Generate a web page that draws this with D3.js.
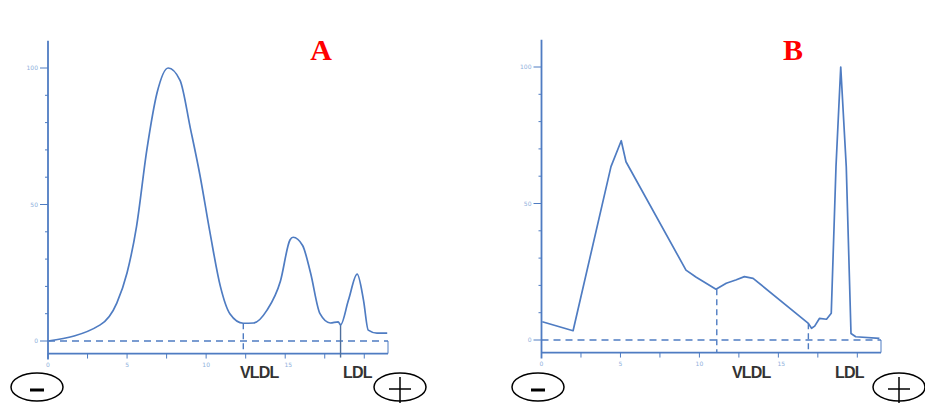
<!DOCTYPE html>
<html>
<head>
<meta charset="utf-8">
<script src="https://cdn.jsdelivr.net/npm/d3@7"></script>
<style>
  body { margin: 0; background: #fff; }
  svg { display: block; }
  .tl { font-family: "DejaVu Sans", sans-serif; font-size: 6px; fill: #8fb0dc; }
  .frac { font-family: "Liberation Sans", Arial, sans-serif; font-weight: bold; font-size: 16px; fill: #333; letter-spacing: -0.8px; }
  .panel { font-family: "Liberation Serif", "Times New Roman", serif; font-weight: bold; font-size: 30px; fill: #ff0000; }
</style>
</head>
<body>
<svg id="chart" width="925" height="403"></svg>
<script>
// densitometric scan, panel A (smooth bands)
var posA = [0, 3.3, 4.35, 5.0, 5.6, 6.25, 6.9, 7.6, 8.35, 9.0, 9.6, 10.25, 10.9, 11.5, 12.35, 13.0,
  13.85, 14.7, 15.3, 15.5, 16.1, 16.6, 17.2, 17.85, 18.35, 18.5, 19.0, 19.55, 19.95, 20.25, 20.8, 21.45];
var valA = [0, 5.9, 13.9, 25, 42, 70, 91, 100, 95.5, 78, 61, 39.5, 20, 10, 6.5, 6.6,
  11.3, 22, 37, 38, 35, 25, 10, 6.6, 7, 5.9, 15, 24.5, 15, 4, 2.9, 2.9];

// panel B (broad smear + sharp LDL band)
var posB = [0.05, 2.0, 4.4, 5.05, 5.35, 9.15, 9.8, 11.05, 11.7, 12.3, 12.85, 13.4, 16.9, 17.1,
  17.3, 17.6, 18.05, 18.35, 18.65, 18.95, 19.3, 19.6, 19.9, 21.4];
var valB = [6.7, 3.4, 63.5, 73, 65.3, 25.6, 23, 18.6, 20.8, 22, 23.2, 22.6, 6.1, 4.3,
  5.1, 7.9, 7.6, 9.8, 63.5, 100, 63.5, 2.4, 1.2, 0.6];

var xTicks = [0, 2.5, 5, 7.5, 10, 12.5, 15, 17.5, 20];
var xLabels = [0, 5, 10, 15];
var yTicks = [0, 10, 20, 30, 40, 50, 60, 70, 80, 90, 100];
var yLabels = [0, 50, 100];

// fraction boundaries: [position, curve value at that position, solid?]
var cutsA = [[12.35, 6.5, false], [18.5, 5.9, true]];
var cutsB = [[11.1, 18.6, false], [16.9, 6.1, false]];
var fracNames = ["VLDL", "LDL"];

var svg = d3.select("#chart");
var blue = "#4f7cc2";

function panel(opt) {
  var x = d3.scaleLinear().domain([0, 21.5]).range(opt.xr);
  var y = d3.scaleLinear().domain([0, 100]).range(opt.yr);
  var g = svg.append("g");

  // y axis
  var yTop = y(110), yBot = y(-4.6);
  g.append("line").attr("x1", x(0)).attr("x2", x(0)).attr("y1", yTop).attr("y2", yBot + 6)
    .attr("stroke", blue).attr("stroke-width", 1.8);
  g.selectAll(".yt").data(yTicks).join("line")
    .attr("x1", function (d) { return x(0) - (yLabels.indexOf(d) >= 0 ? 8 : 3); })
    .attr("x2", x(0)).attr("y1", y).attr("y2", y)
    .attr("stroke", blue).attr("stroke-width", 1);
  g.selectAll(".yl").data(yLabels).join("text").attr("class", "tl")
    .attr("x", x(0) - 10).attr("y", function (d) { return y(d) + 2; })
    .attr("text-anchor", "end").text(function (d) { return d; });

  // x axis
  g.append("line").attr("x1", x(0)).attr("x2", x(21.5)).attr("y1", yBot).attr("y2", yBot)
    .attr("stroke", blue).attr("stroke-width", 1.8);
  g.append("line").attr("x1", x(21.5)).attr("x2", x(21.5)).attr("y1", y(0)).attr("y2", yBot)
    .attr("stroke", blue).attr("stroke-width", 1);
  g.selectAll(".xt").data(xTicks).join("line")
    .attr("x1", x).attr("x2", x).attr("y1", yBot).attr("y2", yBot + 5)
    .attr("stroke", blue).attr("stroke-width", 1);
  g.selectAll(".xl").data(xLabels).join("text").attr("class", "tl")
    .attr("x", function (d) { return x(d) + (d === 15 ? 3 : 0); }).attr("y", yBot + 13)
    .attr("text-anchor", "middle").text(function (d) { return d; });

  // zero baseline
  g.append("line").attr("x1", x(0)).attr("x2", x(21.5)).attr("y1", y(0)).attr("y2", y(0))
    .attr("stroke", blue).attr("stroke-width", 1.5).attr("stroke-dasharray", "7,5");

  // fraction cut lines
  opt.cuts.forEach(function (c) {
    g.append("line").attr("x1", x(c[0])).attr("x2", x(c[0])).attr("y1", y(c[1])).attr("y2", yBot + (c[2] ? 4 : 0))
      .attr("stroke", c[2] ? "#4f6f9c" : blue).attr("stroke-width", 1.4)
      .attr("stroke-dasharray", c[2] ? null : "6,4");
  });

  // scan trace
  var pts = opt.pos.map(function (p, i) { return [p, opt.val[i]]; });
  var line = d3.line().x(function (d) { return x(d[0]); }).y(function (d) { return y(d[1]); }).curve(opt.curve);
  g.append("path").datum(pts).attr("d", line).attr("fill", "none")
    .attr("stroke", blue).attr("stroke-width", 1.7).attr("stroke-linejoin", "round");

  // fraction names
  opt.names.forEach(function (n, i) {
    g.append("text").attr("class", "frac").attr("x", opt.nameX[i]).attr("y", 378).text(n);
  });

  // panel letter
  g.append("text").attr("class", "panel").attr("x", opt.letterX).attr("y", 60)
    .attr("text-anchor", "middle").text(opt.letter);

  // electrode symbols
  [["-", opt.minusX], ["+", opt.plusX]].forEach(function (s) {
    g.append("ellipse").attr("cx", s[1]).attr("cy", 387).attr("rx", 26).attr("ry", 14)
      .attr("fill", "none").attr("stroke", "#000").attr("stroke-width", 1.5);
    if (s[0] === "-") {
      g.append("line").attr("x1", s[1] - 7).attr("x2", s[1] + 7).attr("y1", 390).attr("y2", 390)
        .attr("stroke", "#000").attr("stroke-width", 3);
    } else {
      g.append("line").attr("x1", s[1] - 11).attr("x2", s[1] + 11).attr("y1", 389).attr("y2", 389)
        .attr("stroke", "#000").attr("stroke-width", 1.5);
      g.append("line").attr("x1", s[1]).attr("x2", s[1]).attr("y1", 377).attr("y2", 403)
        .attr("stroke", "#000").attr("stroke-width", 1.5);
    }
  });
}

panel({ xr: [48, 388], yr: [341, 68], pos: posA, val: valA, curve: d3.curveMonotoneX,
  cuts: cutsA, names: fracNames, nameX: [240, 343], letter: "A", letterX: 321, minusX: 37, plusX: 400 });
panel({ xr: [541.5, 881], yr: [340, 67], pos: posB, val: valB, curve: d3.curveLinear,
  cuts: cutsB, names: fracNames, nameX: [732, 835], letter: "B", letterX: 793, minusX: 538, plusX: 899 });
</script>
</body>
</html>
